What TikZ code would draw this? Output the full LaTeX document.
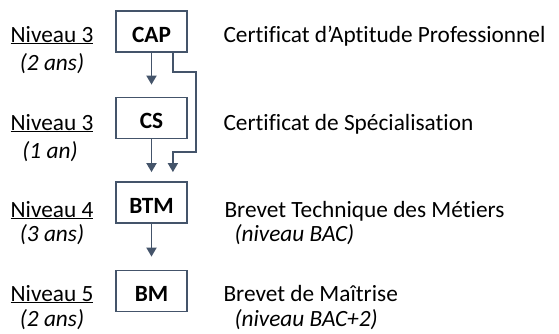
\documentclass[tikz,border=0pt]{standalone}
\usepackage{fontspec}
\setmainfont[Ligatures=CommonOff]{Carlito}
\usetikzlibrary{arrows.meta,positioning}
\definecolor{ardoise}{HTML}{44546A}
\newcommand{\taille}{\fontsize{23.3}{28}\selectfont}

\tikzset{
  diplome/.style={draw=ardoise, line width=1.8pt, minimum width=71pt, minimum height=41pt, inner sep=0pt,
    text height=21pt, text depth=0pt, font=\taille\bfseries},
  flux/.style={draw=ardoise, line width=1.8pt, -{Triangle[length=9pt,width=10pt]}},
  niveau/.style={anchor=base},
  intitule/.style={anchor=base west},
}

\begin{document}
\begin{tikzpicture}[x=1pt, y=-1pt, font=\taille]

  % Cadre
  \useasboundingbox (0,0) rectangle (559,333);

  % Diplomes
  \node[diplome] (cap) at (151.5,31.5) {CAP};
  \node[diplome] (cs)  at (151.5,118)  {CS};
  \node[diplome] (btm) at (151.5,202.5) {BTM};
  \node[diplome] (bm)  at (151.5,291)  {BM};

  % Niveaux
  \node[niveau] (niv-cap) at (52,42)  {\underline{Niveau 3}};
  \node[niveau] (dur-cap) at (52,70)  {\textit{(2 ans)}};
  \node[niveau] (niv-cs)  at (52,130) {\underline{Niveau 3}};
  \node[niveau] (dur-cs)  at (50,158) {\textit{(1 an)}};
  \node[niveau] (niv-btm) at (52,217) {\underline{Niveau 4}};
  \node[niveau] (dur-btm) at (52,241) {\textit{(3 ans)}};
  \node[niveau] (niv-bm)  at (52,301) {\underline{Niveau 5}};
  \node[niveau] (dur-bm)  at (52,326) {\textit{(2 ans)}};

  % Intitules
  \node[intitule] (txt-cap) at (220,42)  {Certificat d’Aptitude Professionnel};
  \node[intitule] (txt-cs)  at (220,130) {Certificat de Spécialisation};
  \node[intitule] (txt-btm) at (221,217) {Brevet Technique des Métiers};
  \node[intitule] (sub-btm) at (231,241) {\textit{(niveau BAC)}};
  \node[intitule] (txt-bm)  at (220,301) {Brevet de Maîtrise};
  \node[intitule] (sub-bm)  at (231,326) {\textit{(niveau BAC+2)}};

  % Passages
  \draw[flux, shorten >=12pt] (cap) -- (cs);
  \draw[flux, shorten >=9pt] (cs) -- (btm);
  \draw[flux, shorten >=13pt] (btm) -- (bm);
  \draw[flux, shorten >=9pt] ([xshift=-15pt]cap.south east) -- ++(0,19) -| (196,152)
    -| ([xshift=-15pt]btm.north east);

\end{tikzpicture}
\end{document}
